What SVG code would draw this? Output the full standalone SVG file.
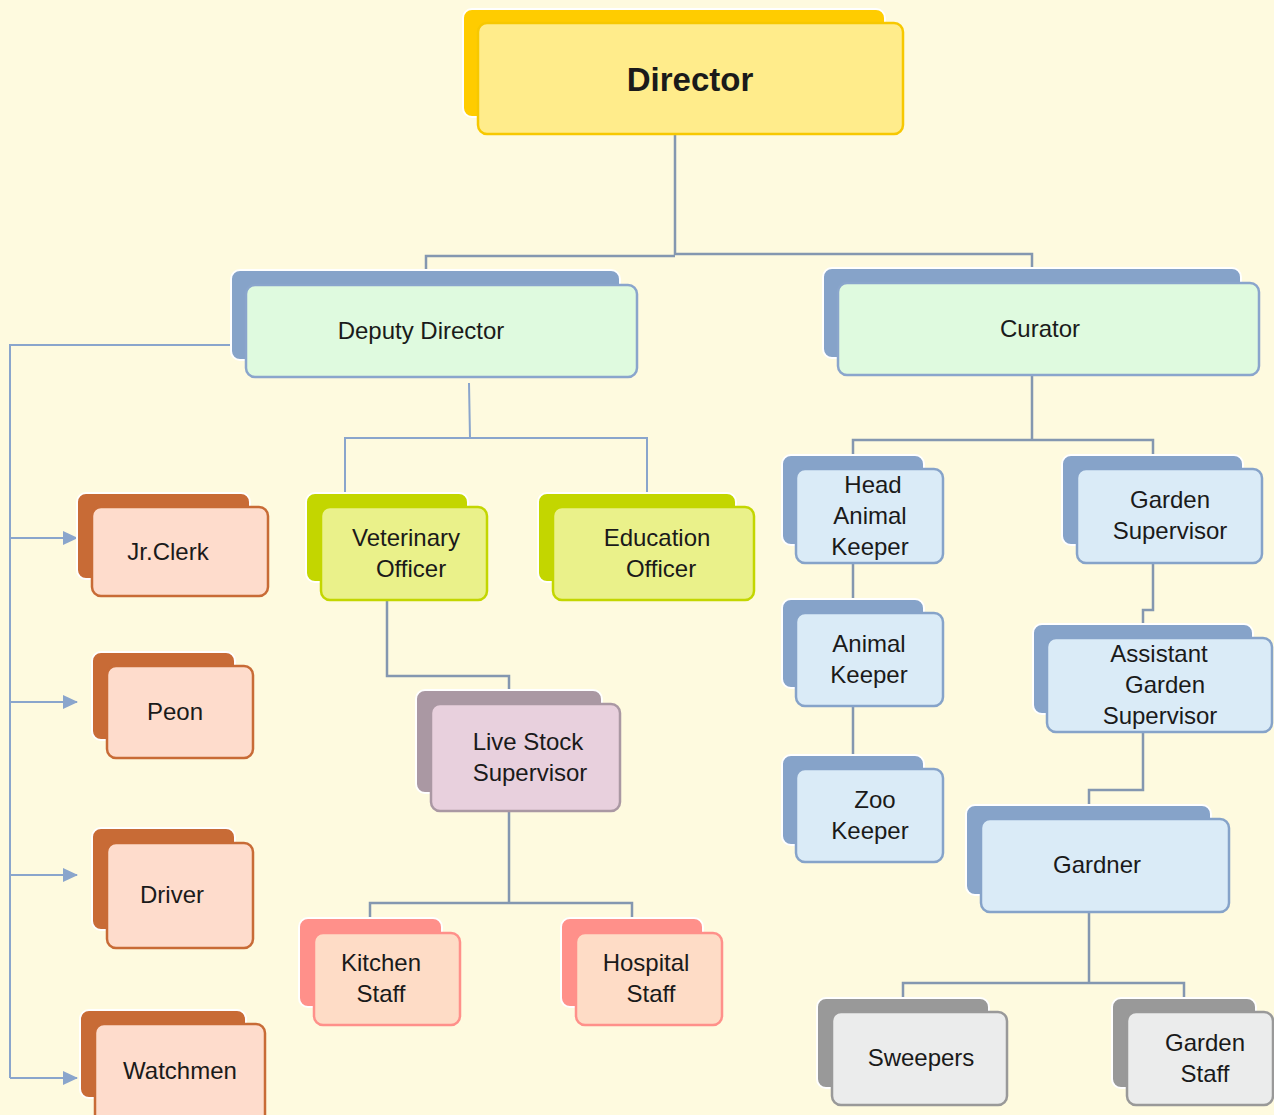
<svg xmlns="http://www.w3.org/2000/svg" width="1274" height="1115" viewBox="0 0 1274 1115">
<defs>
<style>
.bk{stroke:#fff;stroke-width:2}
.fr{stroke-width:2.5}
text{font-family:"Liberation Sans",Arial,sans-serif;font-size:24px;fill:#1a1a1a;text-anchor:middle}
.con{fill:none;stroke:#8497B0;stroke-width:2.5}
.con2{fill:none;stroke:#8AA5CC;stroke-width:2}
.yel .bk{fill:#FFCC00}.yel .fr{fill:#FFEC8B;stroke:#F7C800}
.grn .bk{fill:#86A3C9}.grn .fr{fill:#DFFADF;stroke:#8AA5CC}
.lim .bk{fill:#C3D600}.lim .fr{fill:#EAF18A;stroke:#C3D600}
.org .bk{fill:#C86B36}.org .fr{fill:#FEDCCC;stroke:#C86B36}
.mau .bk{fill:#AA98A3}.mau .fr{fill:#E8D0DD;stroke:#AA98A3}
.pnk .bk{fill:#FF908A}.pnk .fr{fill:#FEDCC6;stroke:#FF908A}
.blu .bk{fill:#86A3C9}.blu .fr{fill:#DAEBF7;stroke:#86A3C9}
.gry .bk{fill:#999999}.gry .fr{fill:#EBECEC;stroke:#999999}
</style>
<marker id="arr" markerWidth="15" markerHeight="14" refX="14" refY="7" orient="auto" markerUnits="userSpaceOnUse">
<path d="M0,0 L15,7 L0,14 z" fill="#8AA5CC"/>
</marker>
</defs>
<rect x="0" y="0" width="1274" height="1115" fill="#FEFADF"/>

<g id="connectors">
<path class="con" d="M675,134 V255 M426,270 V256 H675 M675,254 H1032 V270"/>
<path class="con2" d="M469,383 L470,438 M345,493 V438 H647 V493"/>
<path class="con2" d="M231,345 H10 V1078"/>
<path class="con2" marker-end="url(#arr)" d="M10,538 H77"/>
<path class="con2" marker-end="url(#arr)" d="M10,702 H77"/>
<path class="con2" marker-end="url(#arr)" d="M10,875 H77"/>
<path class="con2" marker-end="url(#arr)" d="M10,1078 H77"/>
<path class="con" d="M387,600 V676 H509 V690"/>
<path class="con" d="M509,811 V903 M370,918 V903 H632 V918"/>
<path class="con" d="M1032,375 V440 M853,455 V440 H1153 V455"/>
<path class="con" d="M853,563 V599 M853,706 V755"/>
<path class="con" d="M1153,563 V610 H1143 V624"/>
<path class="con" d="M1143,732 V790 H1089 V805"/>
<path class="con" d="M1089,912 V983 M903,998 V983 H1184 V998"/>
</g>

<g id="director" class="yel">
<rect class="bk" x="463" y="9" width="422" height="108" rx="9"/>
<rect class="fr" x="478" y="23" width="425" height="111" rx="9"/>
<text x="690" y="91" style="font-size:33px;font-weight:bold">Director</text>
</g>

<g id="deputy" class="grn">
<rect class="bk" x="231" y="270" width="389" height="90" rx="9"/>
<rect class="fr" x="246" y="285" width="391" height="92" rx="9"/>
<text x="421" y="339">Deputy Director</text>
</g>

<g id="curator" class="grn">
<rect class="bk" x="823" y="268" width="418" height="90" rx="9"/>
<rect class="fr" x="838" y="283" width="421" height="92" rx="9"/>
<text x="1040" y="337">Curator</text>
</g>

<g id="veterinary" class="lim">
<rect class="bk" x="306" y="493" width="162" height="89" rx="9"/>
<rect class="fr" x="321" y="507" width="166" height="93" rx="9"/>
<text x="406" y="546">Veterinary</text>
<text x="411" y="577">Officer</text>
</g>

<g id="education" class="lim">
<rect class="bk" x="538" y="493" width="198" height="89" rx="9"/>
<rect class="fr" x="553" y="507" width="201" height="93" rx="9"/>
<text x="657" y="546">Education</text>
<text x="661" y="577">Officer</text>
</g>

<g id="jrclerk" class="org">
<rect class="bk" x="77" y="493" width="173" height="86" rx="9"/>
<rect class="fr" x="92" y="507" width="176" height="89" rx="9"/>
<text x="168" y="560">Jr.Clerk</text>
</g>

<g id="peon" class="org">
<rect class="bk" x="92" y="652" width="143" height="88" rx="9"/>
<rect class="fr" x="107" y="666" width="146" height="92" rx="9"/>
<text x="175" y="720">Peon</text>
</g>

<g id="driver" class="org">
<rect class="bk" x="92" y="828" width="143" height="102" rx="9"/>
<rect class="fr" x="107" y="843" width="146" height="105" rx="9"/>
<text x="172" y="903">Driver</text>
</g>

<g id="watchmen" class="org">
<rect class="bk" x="80" y="1010" width="166" height="88" rx="9"/>
<rect class="fr" x="95" y="1024" width="170" height="100" rx="9"/>
<text x="180" y="1079">Watchmen</text>
</g>

<g id="livestock" class="mau">
<rect class="bk" x="416" y="690" width="186" height="103" rx="9"/>
<rect class="fr" x="431" y="704" width="189" height="107" rx="9"/>
<text x="528" y="750">Live Stock</text>
<text x="530" y="781">Supervisor</text>
</g>

<g id="kitchen" class="pnk">
<rect class="bk" x="299" y="918" width="143" height="89" rx="9"/>
<rect class="fr" x="314" y="933" width="146" height="92" rx="9"/>
<text x="381" y="971">Kitchen</text>
<text x="381" y="1002">Staff</text>
</g>

<g id="hospital" class="pnk">
<rect class="bk" x="561" y="918" width="142" height="89" rx="9"/>
<rect class="fr" x="576" y="933" width="146" height="92" rx="9"/>
<text x="646" y="971">Hospital</text>
<text x="651" y="1002">Staff</text>
</g>

<g id="headkeeper" class="blu">
<rect class="bk" x="782" y="455" width="142" height="90" rx="9"/>
<rect class="fr" x="796" y="469" width="147" height="94" rx="9"/>
<text x="873" y="493">Head</text>
<text x="870" y="524">Animal</text>
<text x="870" y="555">Keeper</text>
</g>

<g id="animalkeeper" class="blu">
<rect class="bk" x="782" y="599" width="142" height="89" rx="9"/>
<rect class="fr" x="796" y="613" width="147" height="93" rx="9"/>
<text x="869" y="652">Animal</text>
<text x="869" y="683">Keeper</text>
</g>

<g id="zookeeper" class="blu">
<rect class="bk" x="782" y="755" width="142" height="90" rx="9"/>
<rect class="fr" x="796" y="769" width="147" height="93" rx="9"/>
<text x="875" y="808">Zoo</text>
<text x="870" y="839">Keeper</text>
</g>

<g id="gardensupervisor" class="blu">
<rect class="bk" x="1062" y="455" width="181" height="90" rx="9"/>
<rect class="fr" x="1077" y="469" width="185" height="94" rx="9"/>
<text x="1170" y="508">Garden</text>
<text x="1170" y="539">Supervisor</text>
</g>

<g id="assistantgarden" class="blu">
<rect class="bk" x="1033" y="624" width="220" height="90" rx="9"/>
<rect class="fr" x="1047" y="638" width="225" height="94" rx="9"/>
<text x="1159" y="662">Assistant</text>
<text x="1165" y="693">Garden</text>
<text x="1160" y="724">Supervisor</text>
</g>

<g id="gardner" class="blu">
<rect class="bk" x="966" y="805" width="245" height="90" rx="9"/>
<rect class="fr" x="981" y="819" width="248" height="93" rx="9"/>
<text x="1097" y="873">Gardner</text>
</g>

<g id="sweepers" class="gry">
<rect class="bk" x="817" y="998" width="172" height="90" rx="9"/>
<rect class="fr" x="832" y="1012" width="175" height="93" rx="9"/>
<text x="921" y="1066">Sweepers</text>
</g>

<g id="gardenstaff" class="gry">
<rect class="bk" x="1112" y="998" width="144" height="90" rx="9"/>
<rect class="fr" x="1127" y="1012" width="146" height="93" rx="9"/>
<text x="1205" y="1051">Garden</text>
<text x="1205" y="1082">Staff</text>
</g>
</svg>
